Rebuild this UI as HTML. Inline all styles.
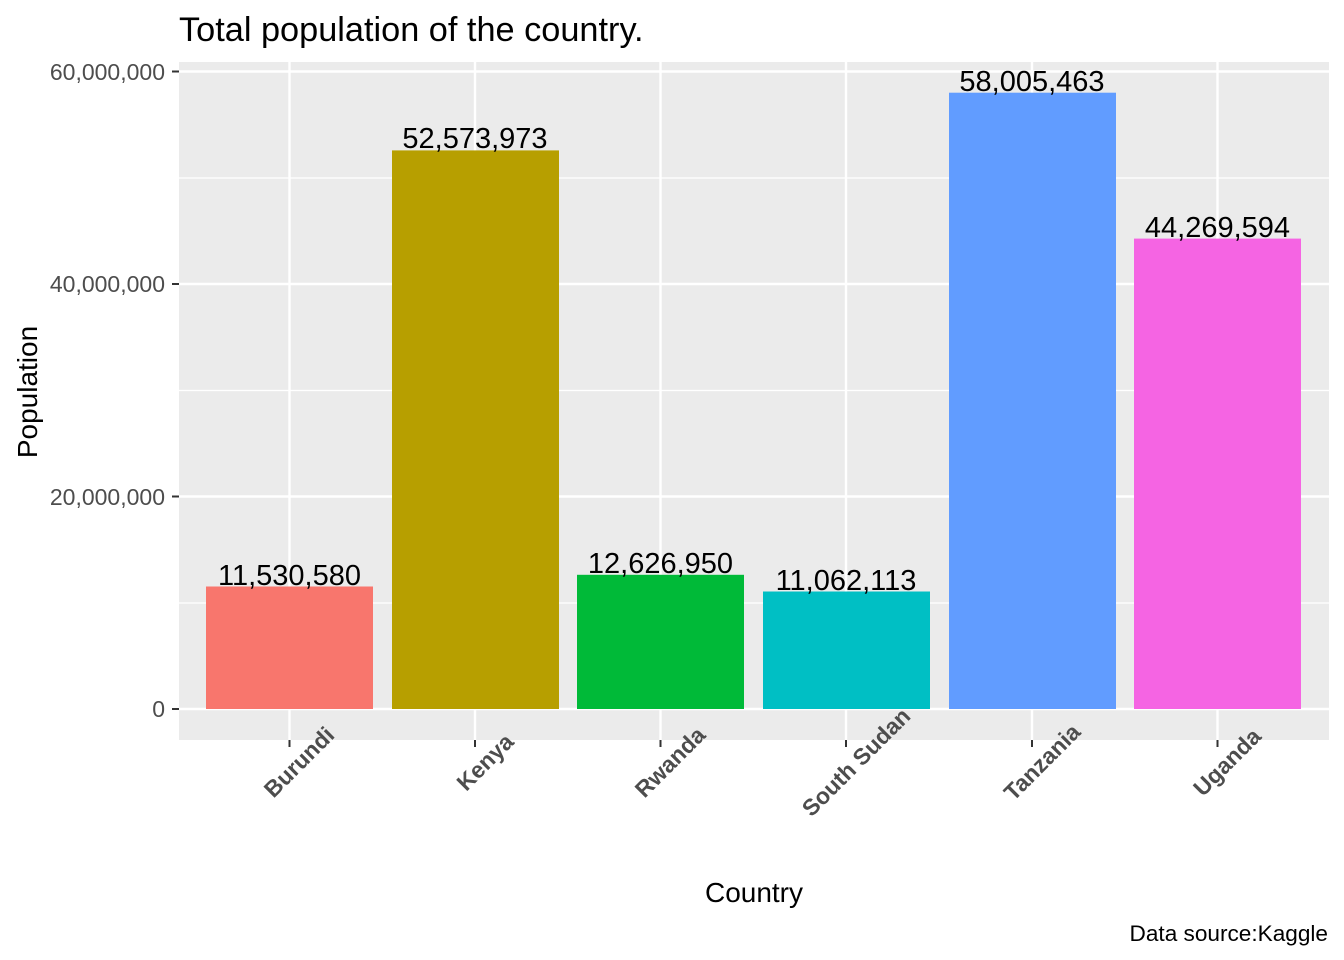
<!DOCTYPE html>
<html><head><meta charset="utf-8"><style>body{margin:0;background:#fff}svg{display:block}</style></head><body>
<svg width="1344" height="960" xmlns="http://www.w3.org/2000/svg" font-family="Liberation Sans, Arial, sans-serif">
<rect x="0" y="0" width="1344" height="960" fill="#fff"/>
<rect x="179" y="62" width="1150" height="678" fill="#ebebeb"/>
<g stroke="#fff" stroke-width="1.2">
<line x1="179" x2="1329" y1="603" y2="603"/><line x1="179" x2="1329" y1="390.5" y2="390.5"/><line x1="179" x2="1329" y1="178" y2="178"/>
</g>
<g stroke="#fff" stroke-width="2.4">
<line x1="179" x2="1329" y1="709" y2="709"/><line x1="179" x2="1329" y1="496.5" y2="496.5"/><line x1="179" x2="1329" y1="284" y2="284"/><line x1="179" x2="1329" y1="71.5" y2="71.5"/>
<line x1="289.5" x2="289.5" y1="62" y2="740"/><line x1="475" x2="475" y1="62" y2="740"/><line x1="660.5" x2="660.5" y1="62" y2="740"/><line x1="846" x2="846" y1="62" y2="740"/><line x1="1032" x2="1032" y1="62" y2="740"/><line x1="1217.5" x2="1217.5" y1="62" y2="740"/>
</g>
<rect x="206" y="586.5" width="167" height="122.5" fill="#f8766d"/>
<rect x="392" y="150.4" width="167" height="558.6" fill="#b79f00"/>
<rect x="577" y="574.8" width="167" height="134.2" fill="#00ba38"/>
<rect x="763" y="591.5" width="167" height="117.5" fill="#00bfc4"/>
<rect x="949" y="92.7" width="167" height="616.3" fill="#619cff"/>
<rect x="1134" y="238.6" width="167" height="470.4" fill="#f564e3"/>
<g font-size="29" fill="#000" text-anchor="middle">
<text x="289.5" y="585">11,530,580</text>
<text x="475" y="148">52,573,973</text>
<text x="660.5" y="573">12,626,950</text>
<text x="846" y="590">11,062,113</text>
<text x="1032" y="91">58,005,463</text>
<text x="1217.5" y="237">44,269,594</text>
</g>
<g stroke="#333" stroke-width="2">
<line x1="172" x2="179" y1="709" y2="709"/><line x1="172" x2="179" y1="496.5" y2="496.5"/><line x1="172" x2="179" y1="284" y2="284"/><line x1="172" x2="179" y1="71.5" y2="71.5"/>
<line x1="289.5" x2="289.5" y1="740" y2="747"/><line x1="475" x2="475" y1="740" y2="747"/><line x1="660.5" x2="660.5" y1="740" y2="747"/><line x1="846" x2="846" y1="740" y2="747"/><line x1="1032" x2="1032" y1="740" y2="747"/><line x1="1217.5" x2="1217.5" y1="740" y2="747"/>
</g>
<g font-size="23" fill="#4d4d4d" text-anchor="end">
<text x="165" y="717">0</text><text x="165" y="505">20,000,000</text><text x="165" y="292">40,000,000</text><text x="165" y="80">60,000,000</text>
</g>
<g font-size="23" font-weight="bold" fill="#4d4d4d" text-anchor="middle">
<text transform="translate(299,762) rotate(-45)" x="0" y="8">Burundi</text>
<text transform="translate(485,762) rotate(-45)" x="0" y="8">Kenya</text>
<text transform="translate(670,762) rotate(-45)" x="0" y="8">Rwanda</text>
<text transform="translate(856,762) rotate(-45)" x="0" y="8">South Sudan</text>
<text transform="translate(1042,762) rotate(-45)" x="0" y="8">Tanzania</text>
<text transform="translate(1227,762) rotate(-45)" x="0" y="8">Uganda</text>
</g>
<text x="754" y="902" font-size="28" text-anchor="middle">Country</text>
<text transform="translate(37,392) rotate(-90)" font-size="28" text-anchor="middle">Population</text>
<text x="179" y="41" font-size="34.3">Total population of the country.</text>
<text x="1328" y="941" font-size="22.6" text-anchor="end">Data source:Kaggle</text>
</svg>
</body></html>
